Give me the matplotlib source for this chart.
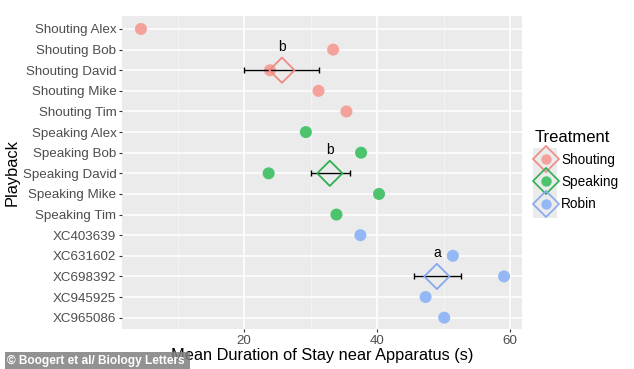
import matplotlib.pyplot as plt
from matplotlib.lines import Line2D
from matplotlib.patches import Rectangle

plt.rcParams['font.family'] = ['Liberation Sans', 'DejaVu Sans']

playback = ['Shouting Alex', 'Shouting Bob', 'Shouting David', 'Shouting Mike', 'Shouting Tim',
            'Speaking Alex', 'Speaking Bob', 'Speaking David', 'Speaking Mike', 'Speaking Tim',
            'XC403639', 'XC631602', 'XC698392', 'XC945925', 'XC965086']
duration = [4.5, 33.4, 23.9, 31.2, 35.4,
            29.3, 37.6, 23.7, 40.3, 33.9,
            37.5, 51.4, 59.1, 47.3, 50.1]
treatment = ['Shouting'] * 5 + ['Speaking'] * 5 + ['Robin'] * 5

groups = ['Shouting', 'Speaking', 'Robin']
group_mean = [25.7, 32.9, 49.0]
group_lo = [20.0, 30.0, 45.6]
group_hi = [31.3, 35.9, 52.6]
group_row = ['Shouting David', 'Speaking David', 'XC698392']
group_letter = ['b', 'b', 'a']

point_col = {'Shouting': '#F4A19B', 'Speaking': '#4CC46E', 'Robin': '#94B8F6'}
line_col = {'Shouting': '#EE8A84', 'Speaking': '#2EAE52', 'Robin': '#86A8EE'}

W, H = 634, 369
fig = plt.figure(figsize=(W / 100, H / 100), dpi=100)
ax = fig.add_axes([122 / W, (H - 329) / H, 400 / W, 313 / H])
ax.set_facecolor('#EBEBEB')

ypos = {name: i for i, name in enumerate(playback)}

# grid
for v in [10, 30, 50]:
    ax.axvline(v, color='#F5F5F5', lw=0.6, zorder=0)
for v in [20, 40, 60]:
    ax.axvline(v, color='white', lw=1.1, zorder=0)
for i in range(len(playback)):
    ax.axhline(i, color='white', lw=1.1, zorder=0)

for name, x, t in zip(playback, duration, treatment):
    ax.scatter(x, ypos[name], s=75, color=point_col[t], edgecolors='none', zorder=2)

for g, m, lo, hi, r, lab in zip(groups, group_mean, group_lo, group_hi, group_row, group_letter):
    y = ypos[r]
    ax.errorbar(m, y, xerr=[[m - lo], [hi - m]], fmt='none', ecolor='black',
                elinewidth=1.0, capsize=2, capthick=1.0, zorder=3)
    ax.scatter(m, y, s=165, marker='D', facecolors='none', edgecolors=line_col[g],
               linewidths=1.3, zorder=4)
    ax.text(m, y - 1.15, lab, ha='center', va='center', fontsize=10, color='black')

ax.set_xlim(1.65, 61.8)
ax.set_ylim(14.55, -0.63)
ax.set_xticks([20, 40, 60])
ax.set_yticks(range(len(playback)))
ax.set_yticklabels(playback)
ax.tick_params(axis='both', length=2.5, color='#333333', labelcolor='#4D4D4D', labelsize=9.6, pad=1.5)
for s in ax.spines.values():
    s.set_visible(False)

ax.set_xlabel('Mean Duration of Stay near Apparatus (s)', fontsize=11.8, labelpad=1)
ax.set_ylabel('Playback', fontsize=11.8, labelpad=2)

# legend
handles = [Line2D([], [], marker='o', ls='none', markersize=7.5, color=point_col[g],
                  markeredgecolor='none') for g in groups]
diamonds = [Line2D([], [], marker='D', ls='none', markersize=13, markerfacecolor='none',
                   markeredgecolor=line_col[g], markeredgewidth=1.2) for g in groups]
leg = fig.legend([(d, h) for d, h in zip(diamonds, handles)], groups, title='Treatment',
                 loc='upper left', bbox_to_anchor=(528 / W, 1 - 123 / H), frameon=False,
                 fontsize=9.8, title_fontsize=12, handlelength=1.6, handletextpad=0.35,
                 labelspacing=0.6, borderpad=0)
leg._legend_box.align = 'left'
fig.add_artist(Rectangle((533 / W, 1 - 218 / H), 24 / W, 70 / H, transform=fig.transFigure,
                         facecolor='#EBEBEB', edgecolor='none', zorder=-1))

# watermark
fig.add_artist(Rectangle((5 / W, 0), 185 / W, 17 / H, transform=fig.transFigure,
                         facecolor='#7F7F7F', alpha=0.85, edgecolor='none', zorder=5))
fig.text(7 / W, 8 / H, '© Boogert et al/ Biology Letters', color='white', fontsize=8.6,
         fontweight='bold', va='center', ha='left', zorder=6)

fig.savefig('out.png', dpi=100)
